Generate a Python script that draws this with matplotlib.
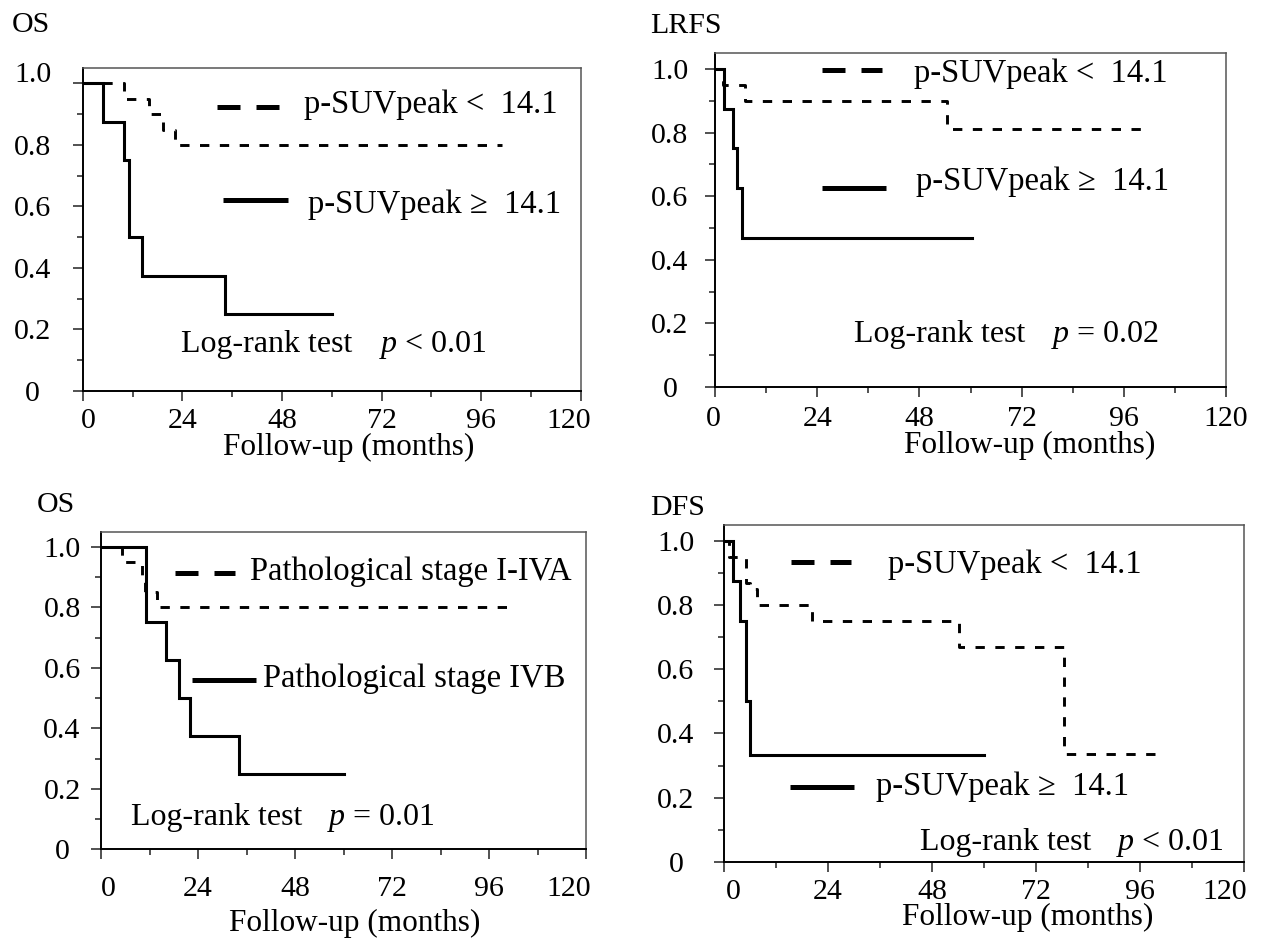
import matplotlib
matplotlib.use('Agg')
import matplotlib.pyplot as plt
from matplotlib.lines import Line2D
from matplotlib.transforms import ScaledTranslation

W, H, DPI = 1262, 944, 100

plt.rcParams['font.family'] = ['Liberation Serif', 'DejaVu Serif']
plt.rcParams['mathtext.fontset'] = 'custom'
plt.rcParams['mathtext.it'] = 'Liberation Serif:italic'
plt.rcParams['mathtext.rm'] = 'Liberation Serif'

# ---------------- data ----------------
x_ticks = [0, 24, 48, 72, 96, 120]
x_tick_labels = ['0', '24', '48', '72', '96', '120']
x_minor = [12, 36, 60, 84, 108]
y_ticks = [0, 0.2, 0.4, 0.6, 0.8, 1.0]
y_tick_labels = ['0', '0.2', '0.4', '0.6', '0.8', '1.0']
y_minor = [0.1, 0.3, 0.5, 0.7, 0.9]

# Panel A: OS by p-SUVpeak
os_low_t = [0, 9.9, 16.0, 19.3, 22.2, 101]
os_low_s = [1.0, 0.95, 0.90, 0.85, 0.80, 0.80]
os_high_t = [0, 4.9, 9.9, 11.1, 14.4, 34.3, 60]
os_high_s = [1.0, 0.875, 0.75, 0.50, 0.375, 0.25, 0.25]

# Panel B: LRFS by p-SUVpeak
lrfs_low_t = [0, 1.9, 7.1, 54.4, 101]
lrfs_low_s = [1.0, 0.95, 0.90, 0.81, 0.81]
lrfs_high_t = [0, 2.1, 4.3, 5.2, 6.4, 60.4]
lrfs_high_s = [1.0, 0.875, 0.75, 0.625, 0.469, 0.469]

# Panel C: OS by pathological stage
stage_early_t = [0, 5.2, 10.2, 10.8, 13.8, 101]
stage_early_s = [1.0, 0.95, 0.90, 0.85, 0.80, 0.80]
stage_late_t = [0, 11.2, 16.1, 19.2, 22.0, 34.2, 60.1]
stage_late_s = [1.0, 0.75, 0.625, 0.50, 0.375, 0.25, 0.25]

# Panel D: DFS by p-SUVpeak
dfs_low_t = [0, 1.2, 5.0, 6.0, 7.6, 20.4, 54.3, 78.4, 101.3]
dfs_low_s = [1.0, 0.95, 0.87, 0.85, 0.80, 0.75, 0.67, 0.335, 0.335]
dfs_high_t = [0, 2.15, 3.8, 5.1, 6.1, 60.1]
dfs_high_s = [1.0, 0.875, 0.75, 0.50, 0.333, 0.333]

titles = ['OS', 'LRFS', 'OS', 'DFS']
low_labels = ['p-SUVpeak <  14.1', 'p-SUVpeak <  14.1',
              'Pathological stage I-IVA', 'p-SUVpeak <  14.1']
high_labels = ['p-SUVpeak \u2265  14.1', 'p-SUVpeak \u2265  14.1',
               'Pathological stage IVB', 'p-SUVpeak \u2265  14.1']
p_texts = ['$p$ < 0.01', '$p$ = 0.02', '$p$ = 0.01', '$p$ < 0.01']
x_label = 'Follow-up (months)'

series = [
    (os_low_t, os_low_s, os_high_t, os_high_s),
    (lrfs_low_t, lrfs_low_s, lrfs_high_t, lrfs_high_s),
    (stage_early_t, stage_early_s, stage_late_t, stage_late_s),
    (dfs_low_t, dfs_low_s, dfs_high_t, dfs_high_s),
]

# ---------------- layout (pixels) ----------------
frames = [(82.7, 580.8, 68, 391), (715, 1226, 53, 387),
          (101, 586, 531.7, 849.3), (724, 1244, 525, 861.7)]
ytick_center = [32.7, 670, 62, 676]
xtick_pad = [5.0, 7.0, 12.5, 5.5]
first_xlab_shift = [6, -2, 7, 9]
last_xlab_shift = [-12, 0, -17, -19]
title_pos = [(11.5, 32), (650, 33), (36.5, 512), (650, 515)]
low_sample = [(217, 279, 107), (821.5, 882, 70), (175, 234.6, 573), (791, 851, 562)]
high_sample = [(223, 288, 200), (821.5, 886, 188), (192, 256, 680), (790, 854, 787)]
low_text = [(304, 113), (914, 82), (250, 580), (888, 573)]
high_text = [(308, 213), (916, 190), (262.7, 687), (876, 795)]
lr_text = [(181, 379, 352), (853.8, 1051.4, 342), (130.8, 327, 825), (920.3, 1115.9, 850)]
xlab_pos = [(349, 455), (1030, 453), (355, 931), (1028, 925)]

fig = plt.figure(figsize=(W / DPI, H / DPI), dpi=DPI)


def fx(x):
    return x / W


def fy(y):
    return 1 - y / H


def shift(text, dx, dy):
    text.set_transform(text.get_transform() +
                       ScaledTranslation(dx / DPI, dy / DPI, fig.dpi_scale_trans))


TICKLEN = 7
for i in range(4):
    l, r, t, b = frames[i]
    ax = fig.add_axes([fx(l), fy(b), (r - l) / W, (b - t) / H])
    lt, ls, ht, hs = series[i]
    ax.step(ht, hs, where='post', color='black', lw=2.2, solid_joinstyle='miter')
    ax.step(lt, ls, where='post', color='black', lw=2.1, linestyle=(0, (3.2, 3.6)))
    ax.set_xlim(0, 120)
    ax.set_ylim(0, 1.05)
    ax.set_xticks(x_ticks)
    ax.set_xticklabels(x_tick_labels)
    ax.set_xticks(x_minor, minor=True)
    ax.set_yticks(y_ticks)
    ax.set_yticklabels(y_tick_labels)
    ax.set_yticks(y_minor, minor=True)
    ypad_px = (l - ytick_center[i]) - TICKLEN * DPI / 72
    ax.tick_params(which='major', direction='out', length=TICKLEN, width=1.1,
                   labelsize=21.5, color='#222')
    ax.tick_params(which='minor', direction='out', length=4.5, width=1.1, color='#222')
    ax.tick_params(axis='y', which='major', pad=ypad_px * 72 / DPI)
    ax.tick_params(axis='x', which='major', pad=xtick_pad[i])
    for lab in ax.get_yticklabels():
        lab.set_horizontalalignment('center')
    if i == 0:
        shift(ax.get_yticklabels()[-1], 0, 11)
    xl = ax.get_xticklabels()
    shift(xl[0], first_xlab_shift[i], 0)
    shift(xl[-1], last_xlab_shift[i], 0)
    for side in ['left', 'bottom']:
        ax.spines[side].set_color('black')
        ax.spines[side].set_linewidth(1.4)
    for side in ['top', 'right']:
        ax.spines[side].set_color('#555555')
        ax.spines[side].set_linewidth(1.1)

    # title
    fig.text(fx(title_pos[i][0]), fy(title_pos[i][1]), titles[i], ha='left',
             va='baseline', fontsize=21.5)
    # legend samples
    x0, x1, y = low_sample[i]
    fig.add_artist(Line2D([fx(x0), fx(x1)], [fy(y), fy(y)], transform=fig.transFigure,
                          color='black', lw=3.6, linestyle=(0, (4.6, 3.2)),
                          solid_capstyle='butt', dash_capstyle='butt'))
    x0, x1, y = high_sample[i]
    fig.add_artist(Line2D([fx(x0), fx(x1)], [fy(y), fy(y)], transform=fig.transFigure,
                          color='black', lw=3.6, solid_capstyle='butt'))
    fig.text(fx(low_text[i][0]), fy(low_text[i][1]), low_labels[i], ha='left',
             va='baseline', fontsize=23.5)
    fig.text(fx(high_text[i][0]), fy(high_text[i][1]), high_labels[i], ha='left',
             va='baseline', fontsize=23.5)
    # log-rank
    xa, xp, yb = lr_text[i]
    fig.text(fx(xa), fy(yb), 'Log-rank test', ha='left', va='baseline', fontsize=23)
    fig.text(fx(xp), fy(yb), p_texts[i], ha='left', va='baseline', fontsize=23)
    # x label
    fig.text(fx(xlab_pos[i][0]), fy(xlab_pos[i][1]), x_label, ha='center',
             va='baseline', fontsize=22.5)

fig.savefig('out.png', dpi=DPI)
